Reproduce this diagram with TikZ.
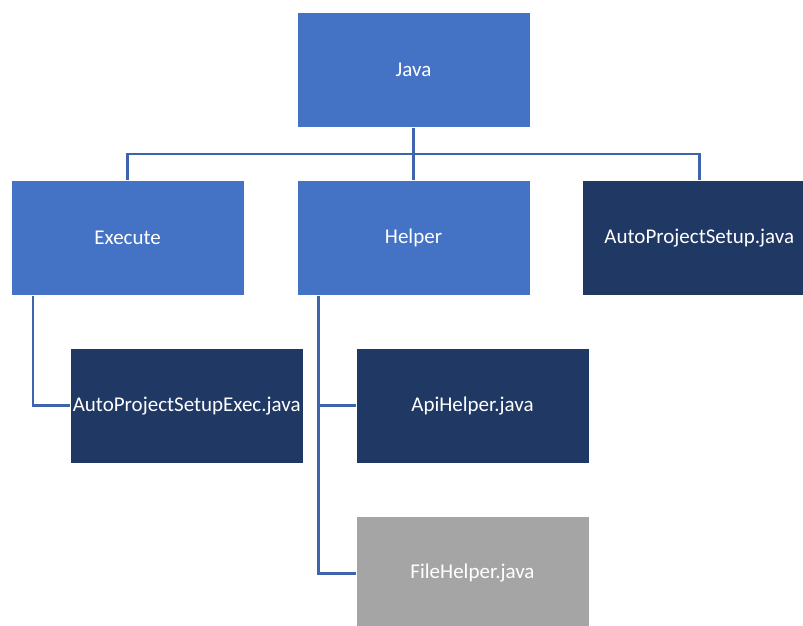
\documentclass[tikz,border=0pt]{standalone}
\usepackage{fontspec}
\setmainfont{Carlito}
\usepackage{xcolor}
\definecolor{colorFolder}{HTML}{4472C4}
\definecolor{colorClass}{HTML}{203864}
\definecolor{colorOther}{HTML}{A5A5A5}
\definecolor{colorLink}{HTML}{3F64AE}
\usetikzlibrary{positioning}

\begin{document}
\begin{tikzpicture}[x=1pt, y=-1pt, node distance=52pt,
  box/.style={rectangle, minimum width=233pt, minimum height=115pt, inner sep=0pt,
    draw=white, line width=0.8pt, text=white, font=\fontsize{21}{25}\selectfont},
  folder/.style={box, fill=colorFolder},
  class/.style={box, fill=colorClass},
  other/.style={box, fill=colorOther},
  link/.style={draw=colorLink, line width=2.6pt}]
\useasboundingbox (0,0) rectangle (803,626);
\clip (0,0) rectangle (803,626);
% tree of packages and classes
\node[folder] (java) at (413.5,70) {Java};
\node[folder, below=of java] (helper) {Helper};
\node[folder, left=of helper] (execute) {Execute};
\node[class, right=of helper] (autosetup) {AutoProjectSetup.java};
\node[class, below=of execute, xshift=59pt] (autoexec) {AutoProjectSetupExec.java};
\node[class, below=of helper, xshift=59pt] (apihelper) {ApiHelper.java};
\node[other, below=of apihelper] (filehelper) {FileHelper.java};
% connectors
\coordinate (bus) at ([yshift=26pt]helper.north);
\coordinate (exectrunk) at ([xshift=22pt]execute.south west);
\coordinate (helpertrunk) at ([xshift=22pt]helper.south west);
\draw[link] (java.south) -- (helper.north);
\draw[link] (execute.north) |- (bus) -| (autosetup.north);
\draw[link] (exectrunk) |- (autoexec.west);
\draw[link] (helpertrunk) |- (apihelper.west);
\draw[link] (helpertrunk) |- (filehelper.west);
\end{tikzpicture}
\end{document}
